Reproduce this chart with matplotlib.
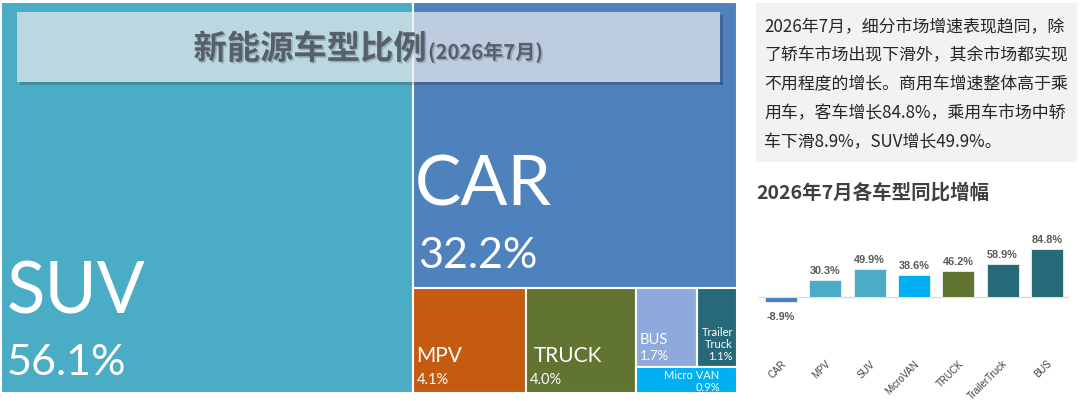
import numpy as np
import matplotlib.pyplot as plt
from matplotlib.patches import Rectangle
import matplotlib.patheffects as pe

plt.rcParams['font.family'] = ['Lato', 'Noto Sans CJK SC', 'DejaVu Sans']

# treemap data
types = ['SUV', 'CAR', 'MPV', 'TRUCK', 'BUS', 'Trailer Truck', 'Micro VAN']
share = [56.1, 32.2, 4.1, 4.0, 1.7, 1.1, 0.9]
tm_colors = ['#4BACC6', '#4F81BD', '#C55A11', '#617431', '#8EA9DB', '#266A79', '#00B0F0']

# growth data
g_cats = ['CAR', 'MPV', 'SUV', 'MicroVAN', 'TRUCK', 'TrailerTruck', 'BUS']
growth = [-8.9, 30.3, 49.9, 38.6, 46.2, 58.9, 84.8]
g_colors = ['#4F81BD', '#4BACC6', '#4BACC6', '#00B0F0', '#617431', '#266A79', '#266A79']

note_lines = ['2026年7月，细分市场增速表现趋同，除',
              '了轿车市场出现下滑外，其余市场都实现',
              '不用程度的增长。商用车增速整体高于乘',
              '用车，客车增长84.8%，乘用车市场中轿',
              '车下滑8.9%，SUV增长49.9%。']

W, H = 1080, 401
def fx(px): return px / W
def fy(py): return 1 - py / H


def worst(row, side):
    s = sum(row)
    return max(max(side**2 * r / s**2, s**2 / (side**2 * r)) for r in row)


def squarify(vals, x, y, w, h):
    total = sum(vals)
    vals = [v * w * h / total for v in vals]
    rects = []
    row = []

    def place(row, x, y, w, h):
        s = sum(row)
        out = []
        if w >= h:
            cw = s / h
            yy = y
            for v in row:
                out.append((x, yy, cw, v / cw))
                yy += v / cw
            return out, (x + cw, y, w - cw, h)
        rh = s / w
        xx = x
        for v in row:
            out.append((xx, y, v / rh, rh))
            xx += v / rh
        return out, (x, y + rh, w, h - rh)

    i = 0
    while i < len(vals):
        side = min(w, h)
        if not row or worst(row + [vals[i]], side) <= worst(row, side):
            row.append(vals[i])
            i += 1
        else:
            out, (x, y, w, h) = place(row, x, y, w, h)
            rects += out
            row = []
    out, _ = place(row, x, y, w, h)
    rects += out
    return rects


fig = plt.figure(figsize=(10.8, 4.01), dpi=100)

# ---- treemap ----
TW, TH = 736, 391
ax = fig.add_axes([fx(1), fy(393), TW / W, TH / H])
ax.set_xlim(0, TW)
ax.set_ylim(TH, 0)
ax.axis('off')

rects = squarify(share, 0, 0, TW, TH)
for (x, y, w, h), c in zip(rects, tm_colors):
    ax.add_patch(Rectangle((x, y), w, h, facecolor=c, edgecolor='white', lw=1.5))

lab = dict(color='white', va='baseline')
names = dict(zip(types, rects))
pcts = {t: f'{v:.1f}%' for t, v in zip(types, share)}

x, y, w, h = names['SUV']
ax.text(x + 6, y + h - 80, 'SUV', fontsize=51, **lab)
ax.text(x + 6, y + h - 18, pcts['SUV'], fontsize=31, **lab)
x, y, w, h = names['CAR']
ax.text(x + 1, y + h - 83, 'CAR', fontsize=50, **lab)
ax.text(x + 5, y + h - 20, pcts['CAR'], fontsize=31, **lab)
x, y, w, h = names['MPV']
ax.text(x + 3, y + h - 31, 'MPV', fontsize=15, **lab)
ax.text(x + 3, y + h - 9, pcts['MPV'], fontsize=10.5, **lab)
x, y, w, h = names['TRUCK']
ax.text(x + 8, y + h - 31, 'TRUCK', fontsize=15, **lab)
ax.text(x + 4, y + h - 9, pcts['TRUCK'], fontsize=10.5, **lab)
x, y, w, h = names['BUS']
ax.text(x + 4, y + h - 23, 'BUS', fontsize=10.5, **lab)
ax.text(x + 4, y + h - 7, pcts['BUS'], fontsize=9.5, **lab)
x, y, w, h = names['Trailer Truck']
ax.text(x + w - 4, y + h - 7, 'Trailer\nTruck\n' + pcts['Trailer Truck'],
        fontsize=8, ha='right', linespacing=1.15, **lab)
x, y, w, h = names['Micro VAN']
ax.text(x + w / 2 + 5, y + h - 14, 'Micro VAN', fontsize=8, ha='center', **lab)
ax.text(x + w - 17, y + h - 2, pcts['Micro VAN'], fontsize=8, ha='right', **lab)

# title box
bx0, by0, bx1, by1 = 16, 10, 719, 80
ax.add_patch(Rectangle((bx0 + 3, by1), bx1 - bx0, 3, facecolor='black', alpha=0.18, lw=0))
ax.add_patch(Rectangle((bx1, by0 + 3), 3, by1 - by0, facecolor='black', alpha=0.18, lw=0))
ax.add_patch(Rectangle((bx0, by0), bx1 - bx0, by1 - by0, facecolor='#e8eaec', alpha=0.72, lw=0))
shadow = [pe.withSimplePatchShadow(offset=(1.2, -1.2), alpha=0.2)]
ax.text(426, 57, '新能源车型比例', ha='right', va='baseline', fontsize=24,
        fontweight='bold', color='#56606b', family=['Noto Sans CJK SC'], path_effects=shadow)
ax.text(427, 57, '(2026年7月)', ha='left', va='baseline', fontsize=14.5,
        fontweight='bold', color='#56606b', family=['Noto Sans CJK SC'], path_effects=shadow)

# ---- note box ----
fig.patches.append(Rectangle((fx(756), fy(162)), (1077 - 756) / W, (162 - 3) / H,
                             transform=fig.transFigure, facecolor='#f2f2f2', lw=0))
for i, line in enumerate(note_lines):
    fig.text(fx(764), fy(32 + i * 28.7), line, fontsize=12.2, color='#262626',
             va='baseline', family=['Noto Sans CJK SC', 'DejaVu Sans'])

fig.text(fx(756), fy(193), '2026年7月各车型同比增幅', fontsize=14, fontweight='bold',
         color='#404040', va='center', family=['Noto Sans CJK SC', 'DejaVu Sans'])

# ---- growth bars ----
bx = fig.add_axes([fx(759), fy(356), 310 / W, (356 - 230) / H])
pos = np.arange(len(g_cats))
bx.bar(pos, growth, width=0.72, color=g_colors, edgecolor='#f0f0f0', lw=0.6)
bx.axhline(0, color='#d9d9d9', lw=1, zorder=0)
bx.set_xlim(-0.5, 6.5)
bx.set_ylim(-104.9, 119.1)
for p, v in zip(pos, growth):
    if v >= 0:
        bx.annotate(f'{v:.1f}%', (p, v), xytext=(0, 3), textcoords='offset points',
                    ha='center', va='bottom', fontsize=7.8, fontweight='bold',
                    color='#595959', family='Liberation Sans')
    else:
        bx.annotate(f'{v:.1f}%', (p, v), xytext=(0, -7), textcoords='offset points',
                    ha='center', va='top', fontsize=7.8, fontweight='bold',
                    color='#595959', family='Liberation Sans')
bx.set_xticks(pos)
bx.set_xticklabels(g_cats, rotation=45, ha='right', rotation_mode='anchor',
                   fontsize=7, color='#404040', family='Liberation Sans')
bx.tick_params(axis='x', length=0, pad=2)
bx.set_yticks([])
for s in bx.spines.values():
    s.set_visible(False)

fig.savefig('out.png', dpi=100)
